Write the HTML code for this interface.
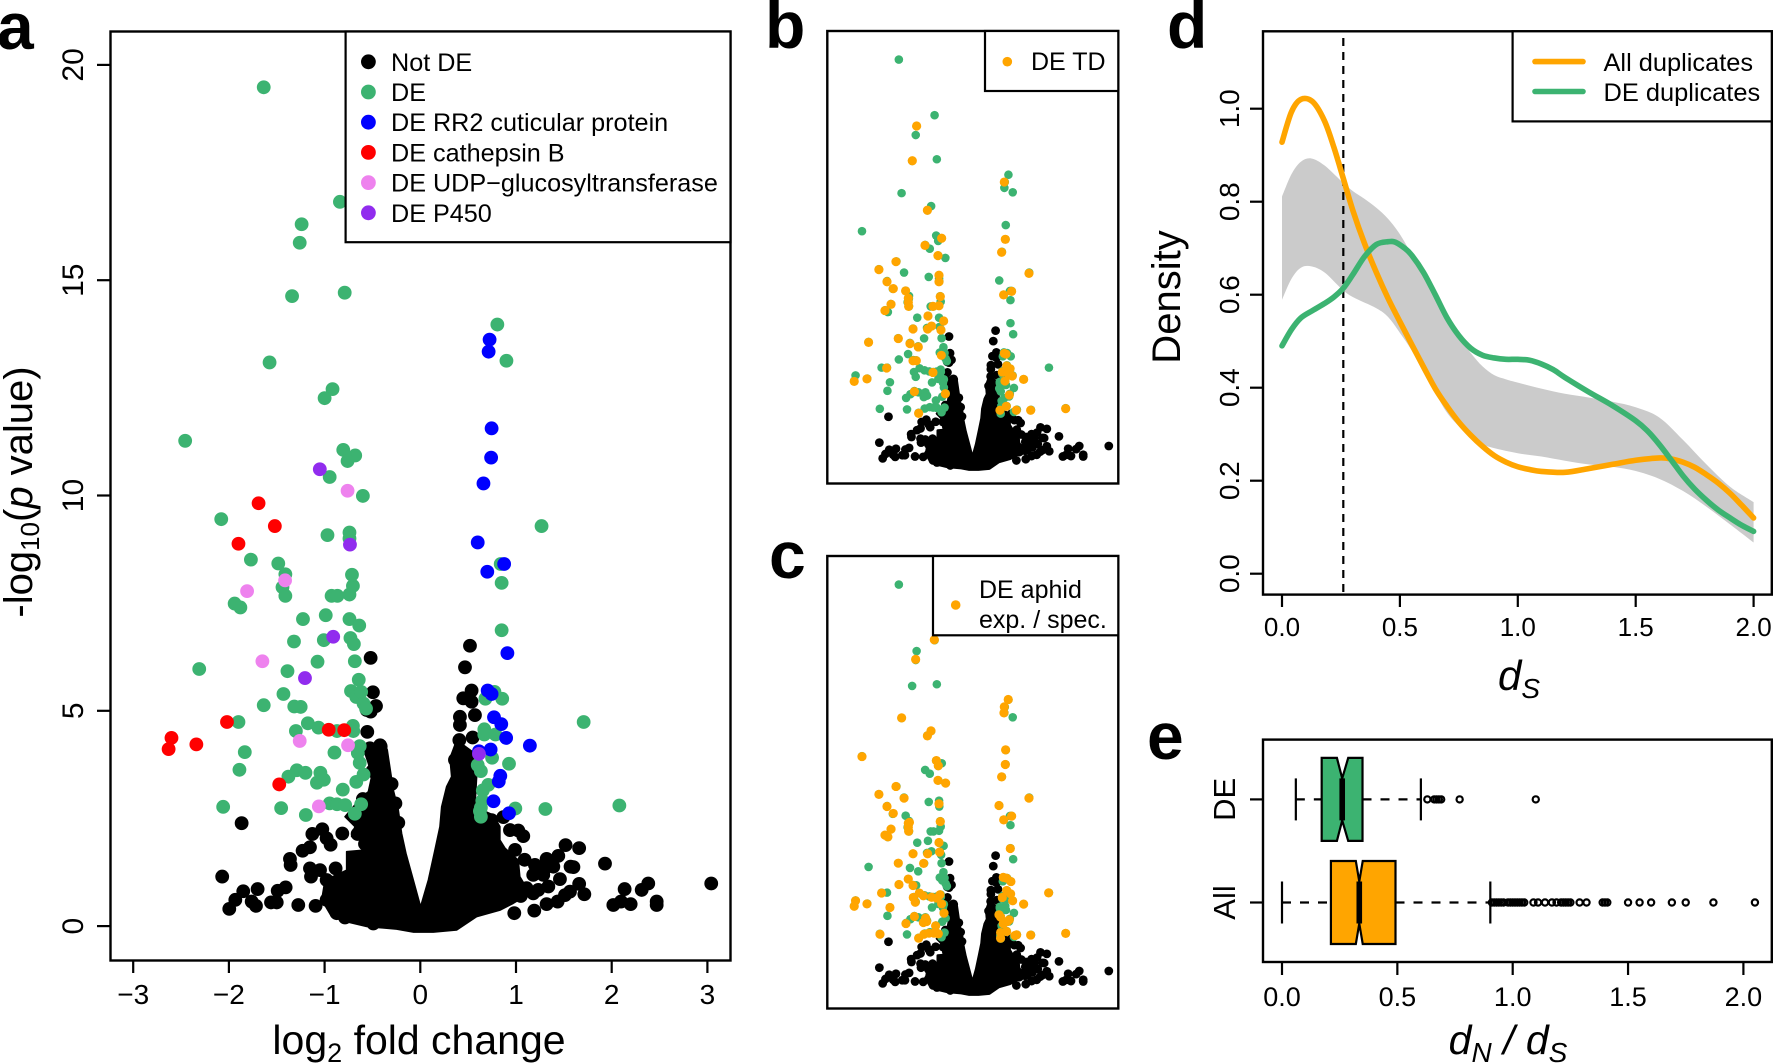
<!DOCTYPE html>
<html lang="en">
<head>
<meta charset="utf-8">
<title>Volcano plots and duplicate divergence</title>
<style>
html,body{margin:0;padding:0;background:#fff;}
svg{display:block;}
text{font-family:"Liberation Sans",sans-serif;fill:#000;}
</style>
</head>
<body>
<svg id="fig" xmlns="http://www.w3.org/2000/svg" width="1773" height="1064" viewBox="0 0 1773 1064">
  <g id="a"></g>
  <g id="b"></g>
  <g id="c"></g>
  <g id="d"></g>
  <g id="e"></g>

  <text x="-3" y="49" font-size="66" font-weight="bold">a</text>
  <text x="765" y="48" font-size="66" font-weight="bold">b</text>
  <text x="769" y="578" font-size="66" font-weight="bold">c</text>
  <text x="1167" y="48" font-size="66" font-weight="bold">d</text>
  <text x="1147" y="759" font-size="66" font-weight="bold">e</text>

  <text x="419" y="1054" font-size="41" text-anchor="middle">log<tspan font-size="27" dy="8">2</tspan><tspan dy="-8"> fold change</tspan></text>
  <text transform="translate(32 492) rotate(-90)" font-size="40" text-anchor="middle">-log<tspan font-size="26" dy="7">10</tspan><tspan dy="-7">(</tspan><tspan font-style="italic">p</tspan> value)</text>
  <text transform="translate(1180 297) rotate(-90)" font-size="40" text-anchor="middle">Density</text>
  <text x="1519" y="690" font-size="42" font-style="italic" text-anchor="middle">d<tspan font-size="28" dy="8">S</tspan></text>
  <text x="1508" y="1054" font-size="41" font-style="italic" text-anchor="middle">d<tspan font-size="28" dy="8">N</tspan><tspan dy="-8"> / d</tspan><tspan font-size="28" dy="8">S</tspan></text>
</svg>
<script>
// ---------- shared volcano data (log2 fold change, -log10 p) ----------
const notDeX = [-0.519,-0.495,-0.463,-0.56,-0.519,-0.554,-0.414,-1.867,-2.07,-1.128,-1.024,-0.979,-0.937,-0.815,-0.655,-0.578,-1.153,-1.23,-1.362,-1.355,-1.153,-1.142,-1.048,-0.885,-0.979,-1.70,-1.407,-1.49,-1.85,-1.933,-1.996,-1.762,-1.717,-1.56,-1.50,-1.275,-1.094,-0.979,-0.874,-0.787,-0.63,-0.491,0.519,0.467,0.536,0.449,0.536,0.571,0.414,0.414,0.408,0.547,0.362,0.745,0.868,0.937,1.024,1.076,0.99,1.09,1.32,1.442,1.518,1.66,1.93,1.57,1.60,1.198,1.39,1.303,1.18,1.285,1.459,1.338,1.233,1.66,1.564,1.512,1.714,1.435,1.32,1.191,0.982,1.111,1.18,3.04,2.382,2.313,2.135,2.47,2.47,2.017,2.097,2.198,-0.60,-0.63,-0.50,-0.42,-0.526,0.97,1.05,-0.30,-0.26,-0.23];
const notDeY = [6.23,5.43,5.11,5.02,4.98,4.51,4.17,2.39,1.15,2.14,2.25,2.04,1.89,2.15,2.14,1.91,1.83,1.75,1.56,1.42,1.34,1.15,1.30,1.34,1.07,0.86,0.90,0.82,0.81,0.61,0.40,0.57,0.47,0.55,0.55,0.49,0.47,0.61,0.30,0.20,0.26,0.06,6.51,6.01,5.47,5.29,5.21,4.90,4.86,4.67,4.32,4.38,3.86,2.46,2.53,2.23,2.22,2.09,1.77,1.54,1.56,1.63,1.88,1.81,1.45,1.38,1.37,1.42,1.38,1.34,1.19,1.19,1.09,0.92,0.84,0.98,0.80,0.72,0.74,0.57,0.51,0.36,0.30,0.88,0.76,0.99,0.99,0.84,0.86,0.57,0.49,0.49,0.57,0.51,2.95,2.70,3.60,4.20,4.13,0.90,0.70,3.30,2.85,2.40];
// outline of the saturated black cloud of not-DE genes
const cloudX = [0.003,-0.073,-0.15,-0.195,-0.23,-0.282,-0.345,-0.387,-0.474,-0.596,-0.543,-0.509,-0.543,-0.613,-0.787,-0.683,-0.718,-0.578,-0.637,-0.561,-0.77,-0.77,-0.996,-1.03,-0.927,-0.77,-0.56,-0.247,-0.07,0.136,0.38,0.589,0.832,0.972,1.146,1.04,1.024,0.885,0.832,0.832,0.763,0.571,0.589,0.571,0.38,0.31,0.327,0.275,0.223,0.205,0.153,0.084];
const cloudY = [0.45,1.07,1.69,2.15,2.70,3.16,4.09,4.31,4.24,4.13,3.78,3.47,3.12,3.0,2.54,2.31,2.08,2.08,1.88,1.77,1.73,1.30,1.07,0.61,0.22,0.10,-0.01,-0.07,-0.14,-0.14,-0.09,0.22,0.37,0.53,0.76,1.15,1.53,1.81,2.0,2.31,2.58,2.77,3.47,4.01,4.32,3.9,3.47,3.24,2.77,2.31,1.77,1.07];

const deX = [-1.636,-0.84,-1.24,-1.26,-1.34,-0.79,0.805,0.90,-1.575,-0.917,-1.00,-2.457,-0.805,-0.68,-0.76,-0.947,-0.60,-2.08,1.267,-0.97,-0.74,-0.74,-1.77,-1.484,-1.41,-1.44,-1.41,-1.94,-1.88,-1.226,-0.988,-0.927,-0.866,-0.74,-0.704,-0.714,-0.74,-0.638,-1.32,-1.008,-0.73,-0.694,-1.074,-0.684,-1.388,-2.31,-0.643,-0.724,-0.669,-0.618,-1.43,-1.636,-1.317,-1.25,-0.593,-0.567,-1.90,-1.175,-1.064,-1.30,-0.87,-0.704,-0.70,-0.633,-0.653,-1.834,-0.897,-0.633,-1.89,-1.29,-1.20,-1.378,-1.044,-1.008,-1.08,-0.593,-0.669,-0.81,-2.06,-1.454,-1.196,-0.947,-0.87,-0.785,-0.618,-0.684,0.84,0.85,0.85,0.775,0.68,0.856,1.707,0.669,0.669,0.785,0.75,0.927,0.60,0.633,0.71,0.653,0.648,0.633,0.623,0.633,0.993,1.307,2.08];
const deY = [19.48,16.82,16.30,15.87,14.63,14.71,13.97,13.13,13.09,12.47,12.26,11.27,11.06,10.93,10.80,10.43,9.99,9.45,9.29,9.08,9.14,9.0,8.51,8.42,8.17,7.87,7.67,7.49,7.40,7.13,7.22,7.67,7.67,7.70,7.90,8.16,7.13,6.98,6.61,6.64,6.69,6.55,6.14,6.15,5.92,5.97,5.72,5.46,5.32,5.44,5.39,5.13,5.10,5.09,5.17,5.05,4.74,4.71,4.61,4.53,4.53,4.65,4.53,4.18,4.02,4.04,4.03,3.79,3.63,3.62,3.56,3.47,3.56,3.40,3.33,3.52,3.35,3.17,2.77,2.74,2.58,2.85,2.83,2.81,2.83,2.61,8.41,7.97,6.87,5.44,5.28,5.28,4.74,4.57,4.45,4.45,3.91,3.77,3.74,3.60,3.28,3.15,2.91,2.75,2.67,2.54,2.73,2.72,2.80];

const cuticularX = [0.724,0.714,0.745,0.74,0.66,0.60,0.876,0.70,0.91,0.704,0.745,0.77,0.846,0.897,1.145,0.735,0.613,0.836,0.82,0.765,0.927];
const cuticularY = [13.62,13.34,11.56,10.88,10.28,8.91,8.41,8.23,6.34,5.47,5.39,4.85,4.69,4.37,4.19,4.10,4.06,3.49,3.36,2.90,2.62];
const cathepsinX = [-1.69,-1.52,-1.90,-2.02,-2.60,-2.63,-2.34,-0.957,-0.795,-1.474];
const cathepsinY = [9.82,9.29,8.88,4.74,4.37,4.11,4.22,4.56,4.55,3.29];
const udpX = [-0.76,-1.413,-1.81,-1.65,-1.26,-0.755,-1.06];
const udpY = [10.11,8.03,7.78,6.15,4.30,4.20,2.78];
const p450X = [-1.05,-0.735,-0.91,-1.205,0.613];
const p450Y = [10.61,8.86,6.72,5.76,4.0];

const tdX = [-1.24,-1.336,0.713,-1.00,-0.683,0.735,-1.054,0.653,-0.765,-1.70,-2.08,1.262,-0.742,-0.742,-1.90,-1.76,-1.485,0.876,0.698,-0.713,-1.425,-1.425,-1.81,-1.418,-0.876,-0.742,-1.945,-0.987,-0.638,-0.906,-0.995,-1.32,-0.698,-2.31,-1.648,-1.388,-1.203,-0.69,-1.32,-1.247,-1.908,-0.876,-2.346,-2.63,-1.29,-0.60,-1.195,0.713,0.75,0.765,0.84,0.668,0.80,0.89,1.143,0.728,0.824,0.757,0.616,0.98,1.30,2.08];
const tdY = [16.30,14.64,13.62,12.27,10.93,10.88,10.59,10.26,10.10,9.81,9.43,9.25,9.16,8.85,8.85,8.52,8.41,8.39,8.22,8.14,8.06,7.86,7.77,7.67,7.67,7.70,7.47,7.21,6.97,6.73,6.59,6.59,6.54,5.95,6.13,5.89,5.73,5.33,5.07,5.07,4.72,4.51,4.20,4.08,3.59,3.49,2.55,5.42,5.39,4.82,4.69,4.53,4.47,4.34,4.18,4.10,3.43,2.89,2.70,2.70,2.70,2.78];

const aphidX = [-0.846,-1.262,-1.574,-0.92,-1.0,-2.457,0.80,0.713,0.705,0.742,0.735,0.653,-0.80,-0.757,-0.765,-0.594,-1.70,-2.08,-1.52,1.262,-0.742,-1.90,-1.76,0.594,0.876,0.70,-0.713,-1.425,-1.40,-1.425,-1.81,-1.418,-1.945,-1.88,-0.742,0.846,-0.995,-1.32,-0.728,-1.648,-1.084,-1.425,-1.633,-1.32,-2.02,-1.18,-1.314,-1.09,-0.906,-0.72,-0.794,-1.27,-0.683,-2.6,-2.63,-2.346,-1.834,-0.63,-1.29,-1.04,-1.09,-1.017,-1.477,-0.817,-2.056,-1.195,-1.076,-0.965,-0.854,-0.757,0.69,0.765,0.86,0.765,0.854,0.668,0.898,1.143,1.70,0.594,0.631,0.824,0.78,0.69,0.765,0.63,0.63,0.95,0.987,1.30,2.08];
const aphidY = [16.84,15.9,13.10,12.48,12.24,11.25,13.98,13.63,13.34,11.57,10.87,10.28,11.06,10.81,10.11,9.98,9.82,9.44,9.26,9.26,8.99,8.86,8.53,8.91,8.40,8.22,8.14,8.06,8.1,7.87,7.78,7.68,7.49,7.41,7.14,6.85,6.60,6.60,6.68,6.15,6.14,5.39,5.13,5.08,4.72,4.72,4.51,4.59,4.52,4.64,4.48,4.28,4.2,4.35,4.09,4.2,4.03,3.76,3.6,3.52,3.31,3.36,3.26,3.15,2.75,2.56,2.75,2.8,2.8,2.77,5.47,5.43,5.27,4.84,4.68,4.51,4.35,4.19,4.73,3.68,3.57,3.44,3.36,3.25,2.88,2.83,2.56,2.69,2.72,2.71,2.79];

const volcanoXTicks = [-3,-2,-1,0,1,2,3];
const volcanoXLabels = ['\u22123','\u22122','\u22121','0','1','2','3'];
const volcanoYTicks = [0,5,10,15,20];
const volcanoYLabels = ['0','5','10','15','20'];
const legendANames = ['Not DE','DE','DE RR2 cuticular protein','DE cathepsin B','DE UDP\u2212glucosyltransferase','DE P450'];
const legendAColors = ['#000000','#3cb371','#0000ff','#ff0000','#ee82ee','#912cee'];

// ---------- density data (panel d) ----------
const orangeDs = [0,0.04,0.08,0.13,0.18,0.22,0.26,0.30,0.35,0.40,0.45,0.50,0.55,0.6,0.65,0.7,0.75,0.8,0.85,0.9,0.95,1.0,1.05,1.1,1.2,1.3,1.4,1.5,1.6,1.65,1.7,1.75,1.8,1.85,1.9,1.95,2.0];
const orangeDensity = [0.928,0.993,1.02,1.015,0.974,0.917,0.85,0.782,0.71,0.648,0.592,0.542,0.493,0.445,0.398,0.36,0.326,0.298,0.274,0.254,0.24,0.23,0.224,0.22,0.218,0.226,0.235,0.244,0.249,0.247,0.24,0.229,0.213,0.195,0.173,0.147,0.12];
const greenDs = [0,0.04,0.08,0.13,0.18,0.22,0.26,0.3,0.35,0.40,0.45,0.48,0.52,0.55,0.6,0.65,0.7,0.75,0.8,0.85,0.9,0.95,1.0,1.05,1.1,1.15,1.2,1.3,1.4,1.5,1.55,1.6,1.65,1.7,1.75,1.8,1.85,1.9,1.95,2.0];
const greenDensity = [0.49,0.525,0.55,0.566,0.581,0.595,0.614,0.643,0.682,0.708,0.714,0.713,0.70,0.685,0.648,0.60,0.55,0.512,0.485,0.47,0.464,0.461,0.461,0.459,0.451,0.439,0.422,0.391,0.362,0.329,0.307,0.278,0.245,0.211,0.182,0.158,0.137,0.12,0.104,0.091];
const bandUpperDs = [0,0.04,0.08,0.125,0.18,0.25,0.3,0.35,0.4,0.45,0.5,0.55,0.6,0.65,0.7,0.75,0.8,0.85,0.9,0.95,1.0,1.1,1.2,1.3,1.4,1.5,1.6,1.7,1.8,1.9,2.0];
const bandUpper = [0.811,0.859,0.886,0.893,0.878,0.845,0.823,0.806,0.787,0.763,0.73,0.686,0.638,0.589,0.542,0.509,0.475,0.446,0.427,0.418,0.411,0.398,0.387,0.379,0.37,0.358,0.336,0.288,0.235,0.187,0.154];
const bandLowerDs = [0,0.04,0.08,0.125,0.18,0.25,0.3,0.4,0.45,0.5,0.55,0.6,0.65,0.7,0.75,0.8,0.85,0.9,1.0,1.1,1.2,1.3,1.4,1.5,1.6,1.7,1.8,1.9,2.0];
const bandLower = [0.589,0.634,0.658,0.661,0.648,0.614,0.595,0.571,0.552,0.518,0.48,0.432,0.389,0.346,0.317,0.293,0.278,0.27,0.259,0.252,0.243,0.235,0.23,0.221,0.204,0.178,0.144,0.106,0.067];
const dsThreshold = [0.26];
const densityXTicks = [0,0.5,1,1.5,2];
const densityXLabels = ['0.0','0.5','1.0','1.5','2.0'];
const densityYTicks = [0,0.2,0.4,0.6,0.8,1.0];
const densityYLabels = ['0.0','0.2','0.4','0.6','0.8','1.0'];

// ---------- boxplot data (panel e) ----------
const boxCategories = ['DE','All'];
const boxWhiskerLow = [0.06,0];
const boxQ1 = [0.172,0.212];
const boxNotchLow = [0.238,0.32];
const boxMedian = [0.261,0.335];
const boxNotchHigh = [0.287,0.35];
const boxQ3 = [0.349,0.492];
const boxWhiskerHigh = [0.602,0.903];
const outliersDE = [0.63,0.66,0.67,0.68,0.69,0.77,1.10];
const outliersAll = [0.91,0.92,0.93,0.94,0.95,0.96,0.98,0.99,1.0,1.01,1.02,1.03,1.04,1.05,1.09,1.11,1.14,1.17,1.19,1.21,1.22,1.23,1.24,1.25,1.29,1.32,1.39,1.40,1.41,1.50,1.55,1.60,1.69,1.75,1.87,2.05];
const boxXTicks = [0,0.5,1,1.5,2];
const boxXLabels = ['0.0','0.5','1.0','1.5','2.0'];

// ---------- drawing helpers ----------
const NS = 'http://www.w3.org/2000/svg';
function node(parent, tag, attrs, name) {
  const el = document.createElementNS(NS, tag);
  for (const k in attrs) el.setAttribute(k, attrs[k]);
  
  
  parent.appendChild(el);
  return el;
}
function label(parent, x, y, str, size, name, rotate) {
  const attrs = {'font-size': size, 'text-anchor': 'middle'};
  if (rotate) attrs.transform = 'translate(' + x + ' ' + y + ') rotate(-90)';
  else { attrs.x = x; attrs.y = y; }
  const t = node(parent, 'text', attrs, name);
  t.textContent = str;
  return t;
}
function frame(parent, l, t, r, b, name) {
  node(parent, 'rect', {x: l, y: t, width: r - l, height: b - t, fill: 'none', stroke: '#000', 'stroke-width': 2.4}, name);
}
function legendBox(parent, l, t, r, b, name) {
  node(parent, 'rect', {x: l, y: t, width: r - l, height: b - t, fill: '#fff', stroke: '#000', 'stroke-width': 2.2}, name);
}
function dots(parent, xs, ys, sx, sy, r, fill, name) {
  for (let i = 0; i < xs.length; i++) {
    node(parent, 'circle', {cx: sx(xs[i]).toFixed(2), cy: sy(ys[i]).toFixed(2), r: r, fill: fill}, name);
  }
}
function pathFrom(xs, ys, sx, sy) {
  let d = '';
  for (let i = 0; i < xs.length; i++) d += (i ? 'L' : 'M') + sx(xs[i]).toFixed(2) + ' ' + sy(ys[i]).toFixed(2);
  return d;
}
// Catmull-Rom smoothing through the values; lead is 'M' or 'L' for the first point
function smoothFrom(xs, ys, sx, sy, lead) {
  const px = xs.map(sx), py = ys.map(sy);
  let d = lead + px[0].toFixed(2) + ' ' + py[0].toFixed(2);
  for (let i = 0; i < px.length - 1; i++) {
    const i0 = Math.max(i - 1, 0), i3 = Math.min(i + 2, px.length - 1);
    const c1x = px[i] + (px[i + 1] - px[i0]) / 6, c1y = py[i] + (py[i + 1] - py[i0]) / 6;
    const c2x = px[i + 1] - (px[i3] - px[i]) / 6, c2y = py[i + 1] - (py[i3] - py[i]) / 6;
    d += 'C' + c1x.toFixed(2) + ' ' + c1y.toFixed(2) + ' ' + c2x.toFixed(2) + ' ' + c2y.toFixed(2) + ' ' + px[i + 1].toFixed(2) + ' ' + py[i + 1].toFixed(2);
  }
  return d;
}
function tick(parent, x1, y1, x2, y2, name) {
  node(parent, 'line', {x1: x1, y1: y1, x2: x2, y2: y2, stroke: '#000', 'stroke-width': 2.2}, name);
}

// ---------- panel a ----------
(function () {
  const g = document.getElementById('a');
  const sx = v => 420.3 + v * 95.7;
  const sy = v => 926.1 - v * 43.06;
  node(g, 'path', {d: pathFrom(cloudX, cloudY, sx, sy) + 'Z', fill: '#000', stroke: '#000', 'stroke-width': 1.5, 'stroke-linejoin': 'round'}, 'not-de-cloud');
  dots(g, notDeX, notDeY, sx, sy, 6.9, '#000', 'not-de-point');
  dots(g, deX, deY, sx, sy, 6.9, '#3cb371', 'de-point');
  dots(g, cuticularX, cuticularY, sx, sy, 6.9, '#0000ff', 'cuticular-point');
  dots(g, cathepsinX, cathepsinY, sx, sy, 6.9, '#ff0000', 'cathepsin-point');
  dots(g, udpX, udpY, sx, sy, 6.9, '#ee82ee', 'udp-point');
  dots(g, p450X, p450Y, sx, sy, 6.9, '#912cee', 'p450-point');
  frame(g, 110.5, 31.5, 730.5, 960.5, 'plot-frame-a');
  legendBox(g, 345.6, 31.5, 730.5, 242.2, 'legend-a');
  for (let i = 0; i < legendANames.length; i++) {
    const y = 61.8 + i * 30.2;
    node(g, 'circle', {cx: 368.4, cy: y, r: 7.4, fill: legendAColors[i]}, 'legend-marker');
    const t = node(g, 'text', {x: 391, y: y + 9, 'font-size': 25.2}, 'legend-entry');
    t.textContent = legendANames[i];
  }
  volcanoXTicks.forEach((v, i) => {
    tick(g, sx(v), 960.5, sx(v), 973, 'x-tick-a');
    label(g, sx(v), 1004, volcanoXLabels[i], 28, 'x-tick-label-a', false);
  });
  volcanoYTicks.forEach((v, i) => {
    tick(g, 110.5, sy(v), 97, sy(v), 'y-tick-a');
    label(g, 83, sy(v), volcanoYLabels[i], 30, 'y-tick-label-a', true);
  });
})();

// ---------- panels b and c ----------
function smallVolcano(id, top, orangeX, orangeY) {
  const g = document.getElementById(id);
  const base = top + 435.7;
  const sx = v => 972.3 + v * 44.9;
  const sy = v => base - v * 20.9;
  node(g, 'path', {d: pathFrom(cloudX, cloudY, sx, sy) + 'Z', fill: '#000', stroke: '#000', 'stroke-width': 2.5, 'stroke-linejoin': 'round'}, 'not-de-cloud');
  dots(g, notDeX, notDeY, sx, sy, 4.4, '#000', 'not-de-point');
  [[deX, deY], [cuticularX, cuticularY], [cathepsinX, cathepsinY], [udpX, udpY], [p450X, p450Y]].forEach(s => {
    dots(g, s[0], s[1], sx, sy, 4.3, '#3cb371', 'de-point');
  });
  dots(g, orangeX, orangeY, sx, sy, 4.6, '#ffa500', 'highlight-point');
  frame(g, 827.3, top, 1118.3, top + 452.5, 'plot-frame-' + id);
}
smallVolcano('b', 31, tdX, tdY);
smallVolcano('c', 556, aphidX, aphidY);

(function () {
  const g = document.getElementById('b');
  legendBox(g, 985, 31, 1118.3, 91, 'legend-b');
  node(g, 'circle', {cx: 1007.3, cy: 61.7, r: 4.8, fill: '#ffa500'}, 'legend-marker');
  const t = node(g, 'text', {x: 1031, y: 70, 'font-size': 25}, 'legend-entry');
  t.textContent = 'DE TD';
})();
(function () {
  const g = document.getElementById('c');
  legendBox(g, 933, 556, 1118.3, 635.3, 'legend-c');
  node(g, 'circle', {cx: 955.7, cy: 605, r: 4.8, fill: '#ffa500'}, 'legend-marker');
  const t1 = node(g, 'text', {x: 979, y: 598, 'font-size': 25}, 'legend-entry');
  t1.textContent = 'DE aphid';
  const t2 = node(g, 'text', {x: 979, y: 628, 'font-size': 25}, 'legend-entry');
  t2.textContent = 'exp. / spec.';
})();

// ---------- panel d ----------
(function () {
  const g = document.getElementById('d');
  const sx = v => 1282 + v * 235.8;
  const sy = v => 573.7 - v * 465;
  const lowerRevX = bandLowerDs.slice().reverse();
  const lowerRevY = bandLower.slice().reverse();
  node(g, 'path', {d: smoothFrom(bandUpperDs, bandUpper, sx, sy, 'M') + smoothFrom(lowerRevX, lowerRevY, sx, sy, 'L') + 'Z', fill: '#cbcbcb'}, 'null-envelope-band');
  node(g, 'line', {x1: sx(dsThreshold[0]), x2: sx(dsThreshold[0]), y1: 38, y2: 594.6, stroke: '#000', 'stroke-width': 2.2, 'stroke-dasharray': '8 6'}, 'ds-threshold-line');
  node(g, 'path', {d: smoothFrom(orangeDs, orangeDensity, sx, sy, 'M'), fill: 'none', stroke: '#ffa500', 'stroke-width': 5.6, 'stroke-linejoin': 'round', 'stroke-linecap': 'round'}, 'all-duplicates-curve');
  node(g, 'path', {d: smoothFrom(greenDs, greenDensity, sx, sy, 'M'), fill: 'none', stroke: '#3cb371', 'stroke-width': 5.6, 'stroke-linejoin': 'round', 'stroke-linecap': 'round'}, 'de-duplicates-curve');
  frame(g, 1263, 31.3, 1771.8, 594.6, 'plot-frame-d');
  legendBox(g, 1512.6, 31.3, 1771.8, 121.4, 'legend-d');
  node(g, 'line', {x1: 1535, x2: 1583, y1: 61.6, y2: 61.6, stroke: '#ffa500', 'stroke-width': 5.6, 'stroke-linecap': 'round'}, 'legend-line-all');
  node(g, 'line', {x1: 1535, x2: 1583, y1: 91.5, y2: 91.5, stroke: '#3cb371', 'stroke-width': 5.6, 'stroke-linecap': 'round'}, 'legend-line-de');
  const t1 = node(g, 'text', {x: 1603.5, y: 71, 'font-size': 25.4}, 'legend-entry');
  t1.textContent = 'All duplicates';
  const t2 = node(g, 'text', {x: 1603.5, y: 101, 'font-size': 25.4}, 'legend-entry');
  t2.textContent = 'DE duplicates';
  densityXTicks.forEach((v, i) => {
    tick(g, sx(v), 594.6, sx(v), 607, 'x-tick-d');
    label(g, sx(v), 636, densityXLabels[i], 26, 'x-tick-label-d', false);
  });
  densityYTicks.forEach((v, i) => {
    tick(g, 1263, sy(v), 1250, sy(v), 'y-tick-d');
    label(g, 1239, sy(v), densityYLabels[i], 28, 'y-tick-label-d', true);
  });
})();

// ---------- panel e ----------
(function () {
  const g = document.getElementById('e');
  const sx = v => 1282 + v * 230.7;
  const rowY = [799.4, 902.5];
  const halfBox = 41.5, halfWaist = 21;
  const outliers = [outliersDE, outliersAll];
  const fills = ['#3cb371', '#ffa500'];
  boxCategories.forEach((cat, i) => {
    const y = rowY[i];
    node(g, 'line', {x1: sx(boxWhiskerLow[i]), x2: sx(boxQ1[i]), y1: y, y2: y, stroke: '#000', 'stroke-width': 2.2, 'stroke-dasharray': '9 9'}, 'whisker-low');
    node(g, 'line', {x1: sx(boxQ3[i]), x2: sx(boxWhiskerHigh[i]), y1: y, y2: y, stroke: '#000', 'stroke-width': 2.2, 'stroke-dasharray': '9 9'}, 'whisker-high');
    tick(g, sx(boxWhiskerLow[i]), y - halfWaist, sx(boxWhiskerLow[i]), y + halfWaist, 'whisker-cap');
    tick(g, sx(boxWhiskerHigh[i]), y - halfWaist, sx(boxWhiskerHigh[i]), y + halfWaist, 'whisker-cap');
    const pts = [
      [boxQ1[i], -halfBox], [boxNotchLow[i], -halfBox], [boxMedian[i], -halfWaist], [boxNotchHigh[i], -halfBox],
      [boxQ3[i], -halfBox], [boxQ3[i], halfBox], [boxNotchHigh[i], halfBox], [boxMedian[i], halfWaist],
      [boxNotchLow[i], halfBox], [boxQ1[i], halfBox]
    ];
    node(g, 'polygon', {points: pts.map(p => sx(p[0]).toFixed(2) + ',' + (y + p[1]).toFixed(2)).join(' '), fill: fills[i], stroke: '#000', 'stroke-width': 2.2, 'stroke-linejoin': 'miter'}, 'box-' + cat.toLowerCase());
    node(g, 'line', {x1: sx(boxMedian[i]), x2: sx(boxMedian[i]), y1: y - halfWaist, y2: y + halfWaist, stroke: '#000', 'stroke-width': 5.6}, 'median-' + cat.toLowerCase());
    outliers[i].forEach(v => {
      node(g, 'circle', {cx: sx(v).toFixed(2), cy: y, r: 3.1, fill: 'none', stroke: '#000', 'stroke-width': 2.2}, 'outlier-' + cat.toLowerCase());
    });
    tick(g, 1263, y, 1250, y, 'y-tick-e');
    label(g, 1235, y, cat, 31, 'y-tick-label-e', true);
  });
  frame(g, 1263, 739.6, 1771.8, 962, 'plot-frame-e');
  boxXTicks.forEach((v, i) => {
    tick(g, sx(v), 962, sx(v), 975, 'x-tick-e');
    label(g, sx(v), 1006, boxXLabels[i], 27, 'x-tick-label-e', false);
  });
})();
</script>
</body>
</html>
